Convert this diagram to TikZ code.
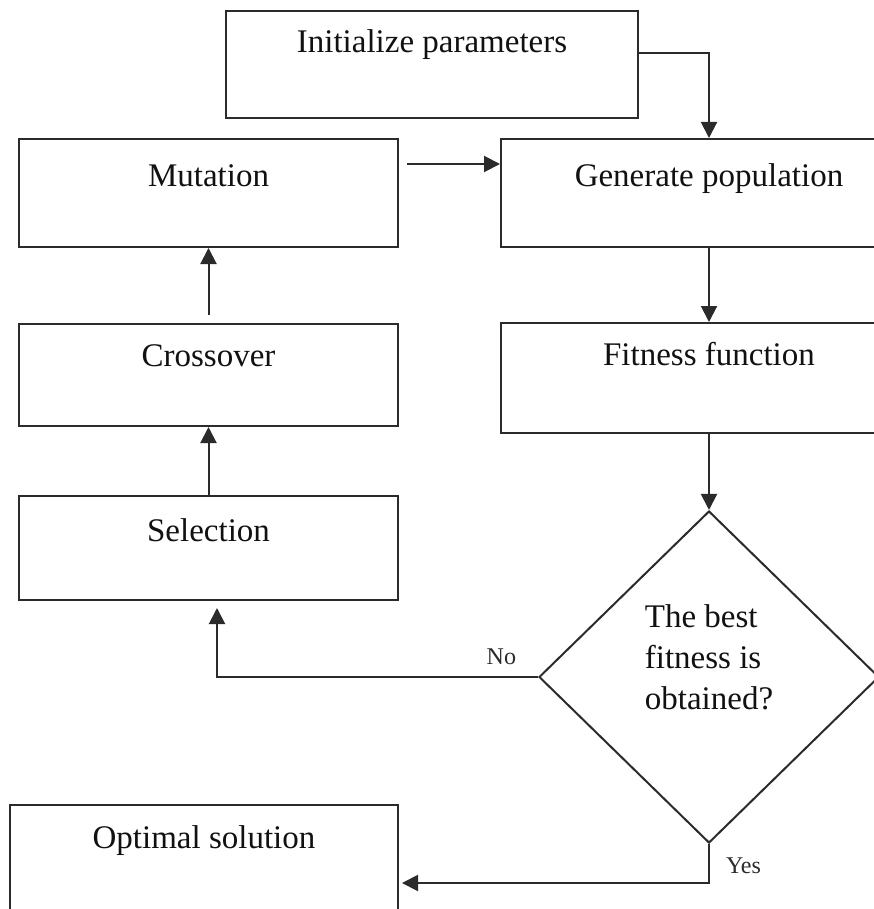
\documentclass[tikz,border=0pt]{standalone}
\usepackage{fontspec}
\setmainfont{Liberation Serif}
\usetikzlibrary{
  arrows.meta,
  positioning,
  shapes.geometric
}
\definecolor{galine}{HTML}{2B2B2B}
\definecolor{gatext}{HTML}{111111}

\begin{document}
\begin{tikzpicture}[
    x=1pt, y=1pt,
    stage/.style={
      rectangle, draw=galine, line width=2pt,
      minimum width=379pt, inner sep=0pt,
      text height=44pt, text depth=62pt,
      font=\fontsize{33}{41}\selectfont\color{gatext}
    },
    decision/.style={
      diamond, draw=galine, line width=2pt,
      minimum width=340pt, minimum height=332pt, inner sep=0pt,
      align=left, font=\fontsize{33}{41}\selectfont\color{gatext}
    },
    arrow/.style={-{Triangle[length=16pt, width=16pt]}, line width=2pt, galine},
    tag/.style={inner sep=0pt, font=\fontsize{24}{28}\selectfont\color{gatext}}
  ]
  \useasboundingbox (0,0) rectangle (873,-909);
  \fill[white] (0,0) rectangle (873,-909);

  % Flow nodes
  \node[stage, anchor=north west, minimum width=412pt, text height=42pt, text depth=65pt] (init) at (225,-10) {Initialize parameters};
  \node[stage, anchor=north west, text height=48pt, text depth=60pt] (mutation) at (18,-138) {Mutation};
  \node[stage, right=101pt of mutation, minimum width=416pt, text height=48pt, text depth=60pt] (generate) {Generate population};
  \node[stage, below=75pt of mutation, text height=42pt, text depth=60pt] (crossover) {Crossover};
  \node[stage, below=68pt of crossover, text height=45pt, text depth=59pt] (selection) {Selection};
  \node[stage, below=74pt of generate, minimum width=416pt, text height=42pt, text depth=68pt] (fitness) {Fitness function};
  \node[decision, below=76pt of fitness, text height=90pt, text depth=26pt] (check) {The best\\fitness is\\obtained?};
  \node[stage, anchor=north west, minimum width=388pt, text height=43pt, text depth=67pt] (optimal) at (9,-804) {Optimal solution};

  % Arrows
  \draw[arrow] ([yshift=11.5pt]init.east) -| (generate.north);
  \draw[arrow] ([shift={(8pt,29pt)}]mutation.east) -- ([yshift=29pt]generate.west);
  \draw[arrow] (generate) -- (fitness);
  \draw[arrow] (fitness) -- (check);
  \draw[arrow, shorten <=8pt] (crossover) -- (mutation);
  \draw[arrow] (selection) -- (crossover);
  \draw[arrow] (check.west) node[tag, above left=11pt and 21pt] (no) {No}
    -| ([shift={(8.5pt,-7pt)}]selection.south);
  \draw[arrow] (check.south) node[tag, below right=13pt and 16pt] (yes) {Yes}
    |- ([shift={(3pt,-23pt)}]optimal.east);
\end{tikzpicture}
\end{document}
